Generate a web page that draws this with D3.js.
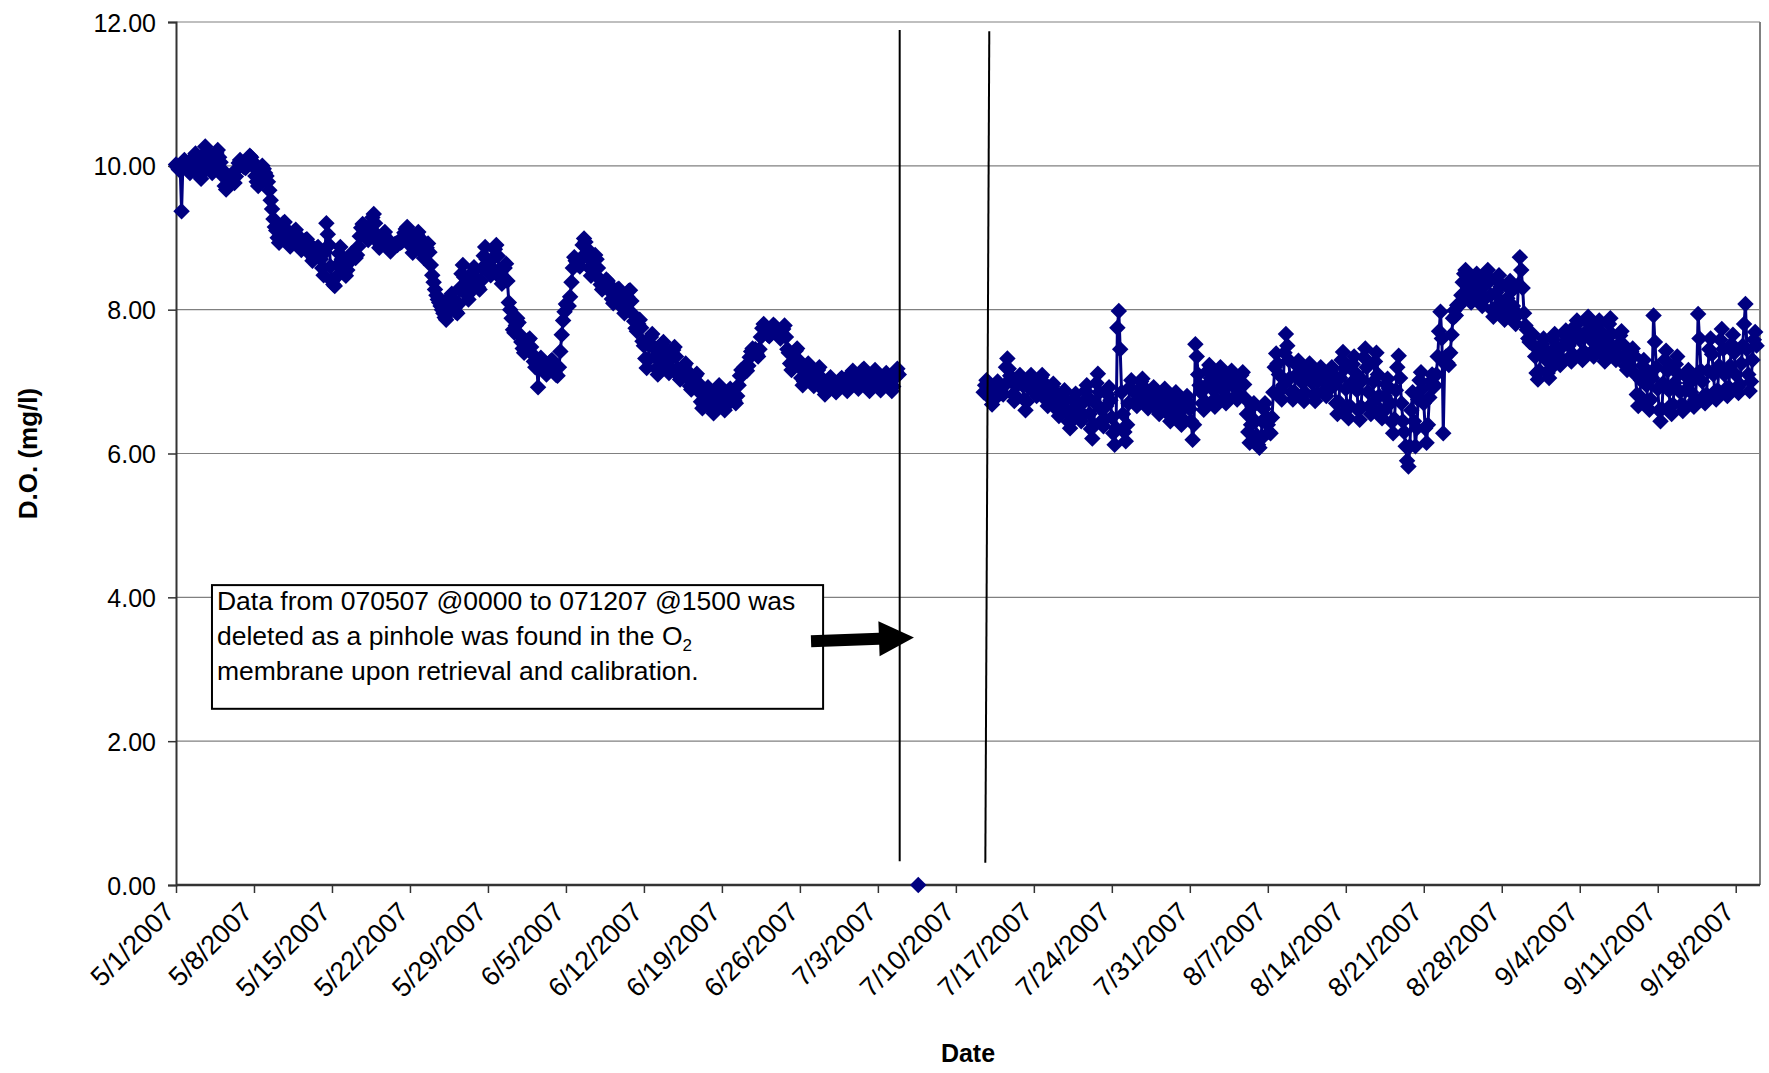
<!DOCTYPE html>
<html>
<head>
<meta charset="utf-8">
<script src="https://cdn.jsdelivr.net/npm/d3@7/dist/d3.min.js"></script>
<style>
  body { margin: 0; background: #fff; }
  text { font-family: "Liberation Sans", Arial, sans-serif; fill: #000; }
</style>
</head>
<body>
<svg id="chart"></svg>
<script>
// D.O. readings every 3 hours (one row of 8 = one day, 00h..21h)
var seg1Start = new Date(2007, 4, 1, 0);
var seg1Values = [
  10.02, 9.98, 9.95, 9.97, 9.37, 10.04, 10.08, 10.03,   // 5/1
  9.98, 9.93, 9.90, 9.97, 10.06, 10.13, 10.17, 10.08,
  9.95, 9.86, 9.82, 9.98, 10.15, 10.27, 10.20, 10.10,
  10.00, 9.94, 9.90, 9.98, 10.10, 10.18, 10.22, 10.12,
  10.05, 9.95, 9.85, 9.72, 9.67, 9.74, 9.82, 9.86,
  9.82, 9.78, 9.76, 9.85, 9.96, 10.04, 10.08, 10.02,
  10.00, 9.98, 9.97, 10.03, 10.09, 10.14, 10.12, 10.06,
  9.98, 9.86, 9.78, 9.72, 9.80, 9.92, 10.00, 9.96,      // 5/8
  9.90, 9.86, 9.78, 9.66, 9.52, 9.40, 9.26, 9.15,
  9.10, 9.00, 8.93, 9.02, 9.12, 9.20, 9.22, 9.12,
  9.02, 8.94, 8.88, 8.95, 9.03, 9.09, 9.11, 9.04,
  8.94, 8.87, 8.83, 8.88, 8.93, 8.97, 8.98, 8.93,
  8.85, 8.76, 8.68, 8.72, 8.79, 8.85, 8.87, 8.80,
  8.70, 8.58, 8.48, 8.80, 9.20, 9.05, 8.90, 8.60,
  8.40, 8.35, 8.33, 8.45, 8.62, 8.78, 8.87, 8.70,       // 5/15
  8.58, 8.50, 8.47, 8.55, 8.65, 8.74, 8.78, 8.72,
  8.74, 8.72, 8.76, 8.88, 9.02, 9.14, 9.19, 9.10,
  9.05, 8.99, 8.97, 9.06, 9.18, 9.28, 9.33, 9.20,
  9.05, 8.94, 8.86, 8.90, 8.98, 9.05, 9.08, 9.00,
  8.90, 8.85, 8.81, 8.84, 8.88, 8.91, 8.92, 8.90,
  8.95, 8.93, 8.94, 9.00, 9.07, 9.12, 9.15, 9.08,
  9.00, 8.88, 8.79, 8.86, 8.96, 9.04, 9.08, 9.00,       // 5/22
  8.90, 8.80, 8.72, 8.78, 8.86, 8.92, 8.80, 8.62,
  8.48, 8.38, 8.28, 8.20, 8.14, 8.10, 8.05, 8.00,
  7.95, 7.89, 7.86, 7.95, 8.08, 8.18, 8.22, 8.12,
  8.02, 7.97, 7.95, 8.08, 8.30, 8.50, 8.62, 8.45,
  8.30, 8.20, 8.14, 8.24, 8.40, 8.52, 8.59, 8.45,
  8.38, 8.31, 8.28, 8.40, 8.58, 8.75, 8.87, 8.70,
  8.58, 8.51, 8.48, 8.58, 8.72, 8.84, 8.90, 8.75,       // 5/29
  8.55, 8.44, 8.36, 8.45, 8.58, 8.64, 8.40, 8.10,
  8.00, 7.88, 7.72, 7.68, 7.78, 7.88, 7.82, 7.65,
  7.55, 7.46, 7.40, 7.44, 7.52, 7.58, 7.60, 7.48,
  7.38, 7.28, 7.20, 7.24, 6.92, 7.30, 7.33, 7.26,
  7.22, 7.14, 7.10, 7.15, 7.22, 7.28, 7.30, 7.18,
  7.12, 7.09, 7.08, 7.20, 7.42, 7.65, 7.85, 7.97,
  8.08, 8.06, 8.05, 8.18, 8.38, 8.58, 8.73, 8.68,       // 6/5
  8.66, 8.62, 8.60, 8.72, 8.90, 8.99, 8.94, 8.85,
  8.72, 8.58, 8.47, 8.55, 8.68, 8.76, 8.70, 8.58,
  8.43, 8.35, 8.28, 8.31, 8.38, 8.42, 8.40, 8.35,
  8.25, 8.15, 8.09, 8.14, 8.22, 8.28, 8.29, 8.22,
  8.15, 8.02, 7.95, 8.05, 8.18, 8.26, 8.27, 8.12,
  7.94, 7.84, 7.74, 7.70, 7.80, 7.86, 7.75, 7.56,
  7.50, 7.32, 7.19, 7.30, 7.50, 7.62, 7.66, 7.48,       // 6/12
  7.35, 7.18, 7.10, 7.22, 7.40, 7.52, 7.55, 7.42,
  7.30, 7.18, 7.12, 7.20, 7.34, 7.44, 7.48, 7.35,
  7.18, 7.08, 7.03, 7.08, 7.16, 7.22, 7.25, 7.15,
  7.05, 6.94, 6.89, 6.93, 7.02, 7.08, 7.11, 6.98,
  6.85, 6.72, 6.63, 6.68, 6.80, 6.88, 6.92, 6.80,
  6.70, 6.61, 6.56, 6.65, 6.80, 6.90, 6.95, 6.82,
  6.75, 6.65, 6.60, 6.66, 6.76, 6.85, 6.90, 6.84,       // 6/19
  6.80, 6.73, 6.70, 6.80, 6.95, 7.08, 7.16, 7.10,
  7.20, 7.16, 7.15, 7.22, 7.34, 7.42, 7.46, 7.40,
  7.45, 7.38, 7.35, 7.45, 7.62, 7.74, 7.80, 7.72,
  7.70, 7.65, 7.63, 7.66, 7.74, 7.79, 7.77, 7.72,
  7.68, 7.63, 7.60, 7.65, 7.73, 7.78, 7.62, 7.45,
  7.40, 7.25, 7.16, 7.22, 7.34, 7.43, 7.46, 7.30,
  7.20, 7.05, 6.95, 7.00, 7.12, 7.21, 7.25, 7.12,       // 6/26
  7.10, 7.00, 6.94, 6.98, 7.08, 7.16, 7.20, 7.06,
  6.98, 6.88, 6.82, 6.86, 6.96, 7.03, 7.06, 6.94,
  6.95, 6.88, 6.85, 6.89, 6.97, 7.03, 7.05, 6.96,
  6.95, 6.90, 6.87, 6.93, 7.04, 7.12, 7.15, 7.08,
  7.05, 6.95, 6.90, 6.96, 7.08, 7.16, 7.18, 7.06,
  6.98, 6.91, 6.87, 6.93, 7.04, 7.12, 7.16, 7.08,
  7.00, 6.92, 6.88, 6.93, 7.02, 7.09, 7.12, 7.04,       // 7/3
  6.98, 6.91, 6.87, 6.93, 7.05, 7.14, 7.18, 7.10
];
var seg2Start = new Date(2007, 6, 12, 12);
var seg2Values = [
  6.85, 6.95, 7.02, 6.96,                               // 7/12 from 12h
  6.90, 6.76, 6.68, 6.74, 6.86, 6.95, 7.00, 6.92,
  6.88, 6.84, 6.82, 6.95, 7.20, 7.32, 7.18, 7.08,
  7.00, 6.82, 6.73, 6.80, 6.95, 7.05, 7.09, 6.98,
  6.95, 6.75, 6.60, 6.72, 6.92, 7.04, 7.09, 6.98,
  6.92, 6.84, 6.80, 6.86, 6.98, 7.06, 7.09, 6.99,       // 7/17
  6.88, 6.74, 6.66, 6.72, 6.84, 6.93, 6.97, 6.85,
  6.76, 6.60, 6.52, 6.58, 6.72, 6.83, 6.88, 6.74,
  6.58, 6.44, 6.35, 6.45, 6.62, 6.76, 6.83, 6.70,
  6.60, 6.50, 6.45, 6.55, 6.72, 6.87, 6.95, 6.78,
  6.55, 6.34, 6.21, 6.40, 6.70, 6.98, 7.11, 6.85,
  6.62, 6.46, 6.38, 6.48, 6.66, 6.82, 6.92, 6.74,
  6.50, 6.28, 6.12, 6.35, 7.75, 7.98, 7.45, 6.85,       // 7/24
  6.55, 6.30, 6.17, 6.40, 6.70, 6.92, 7.02, 6.88,
  6.85, 6.72, 6.66, 6.74, 6.90, 7.00, 7.04, 6.92,
  6.80, 6.68, 6.63, 6.68, 6.80, 6.88, 6.92, 6.84,
  6.74, 6.60, 6.55, 6.62, 6.76, 6.86, 6.90, 6.80,
  6.70, 6.54, 6.45, 6.52, 6.68, 6.80, 6.85, 6.74,
  6.64, 6.48, 6.40, 6.48, 6.64, 6.75, 6.80, 6.70,
  6.62, 6.45, 6.19, 6.40, 7.52, 7.35, 7.10, 6.95,       // 7/31
  6.85, 6.70, 6.61, 6.72, 6.95, 7.15, 7.23, 7.05,
  6.90, 6.74, 6.65, 6.76, 6.98, 7.14, 7.20, 7.02,
  6.88, 6.76, 6.70, 6.78, 6.96, 7.10, 7.15, 7.00,
  6.92, 6.80, 6.75, 6.82, 6.98, 7.09, 7.13, 6.96,
  6.76, 6.55, 6.30, 6.15, 6.40, 6.65, 6.70, 6.45,
  6.25, 6.12, 6.08, 6.20, 6.45, 6.62, 6.70, 6.50,
  6.40, 6.30, 6.28, 6.50, 6.85, 7.20, 7.39, 7.25,       // 8/7
  7.10, 6.88, 6.75, 6.95, 7.40, 7.66, 7.50, 7.30,
  7.05, 6.85, 6.75, 6.86, 7.08, 7.22, 7.29, 7.14,
  7.00, 6.82, 6.73, 6.84, 7.05, 7.19, 7.25, 7.12,
  6.98, 6.82, 6.73, 6.82, 7.00, 7.14, 7.20, 7.08,
  7.02, 6.88, 6.80, 6.87, 7.04, 7.15, 7.20, 7.10,
  6.95, 6.70, 6.55, 6.72, 7.05, 7.30, 7.41, 7.18,
  6.90, 6.62, 6.49, 6.66, 6.98, 7.24, 7.35, 7.12,       // 8/14
  6.88, 6.60, 6.47, 6.65, 7.02, 7.34, 7.46, 7.20,
  6.86, 6.65, 6.55, 6.70, 7.00, 7.28, 7.40, 7.10,
  6.80, 6.60, 6.49, 6.58, 6.80, 6.96, 7.04, 6.90,
  6.70, 6.44, 6.28, 6.48, 6.88, 7.20, 7.36, 7.05,
  6.70, 6.45, 6.30, 6.10, 5.90, 5.82, 6.10, 6.60,
  6.85, 6.45, 6.10, 6.35, 6.75, 7.02, 7.13, 6.90,
  6.70, 6.35, 6.15, 6.40, 6.78, 7.00, 7.10, 6.92,       // 8/21
  6.95, 7.10, 7.35, 7.70, 7.97, 7.60, 6.28, 7.25,
  7.35, 7.26, 7.23, 7.40, 7.65, 7.88, 7.99, 7.92,
  8.06, 8.05, 8.08, 8.20, 8.38, 8.50, 8.55, 8.42,
  8.30, 8.16, 8.10, 8.18, 8.34, 8.46, 8.50, 8.40,
  8.24, 8.10, 8.05, 8.14, 8.34, 8.48, 8.55, 8.40,
  8.20, 8.00, 7.90, 8.02, 8.24, 8.40, 8.48, 8.32,
  8.10, 7.94, 7.86, 7.96, 8.16, 8.32, 8.40, 8.26,       // 8/28
  8.05, 7.88, 7.80, 7.95, 8.35, 8.73, 8.55, 8.30,
  7.95, 7.78, 7.72, 7.60, 7.55, 7.62, 7.66, 7.50,
  7.35, 7.12, 7.03, 7.15, 7.38, 7.52, 7.60, 7.45,
  7.30, 7.12, 7.05, 7.18, 7.40, 7.58, 7.66, 7.48,
  7.42, 7.28, 7.23, 7.32, 7.50, 7.65, 7.71, 7.58,
  7.50, 7.34, 7.28, 7.38, 7.60, 7.78, 7.85, 7.68,
  7.58, 7.38, 7.30, 7.42, 7.66, 7.84, 7.90, 7.74,       // 9/4
  7.58, 7.42, 7.35, 7.45, 7.64, 7.80, 7.85, 7.70,
  7.52, 7.35, 7.28, 7.40, 7.62, 7.80, 7.88, 7.66,
  7.48, 7.35, 7.30, 7.38, 7.52, 7.64, 7.70, 7.52,
  7.36, 7.22, 7.16, 7.22, 7.34, 7.42, 7.46, 7.36,
  7.10, 6.82, 6.66, 6.80, 7.02, 7.22, 7.30, 7.14,
  6.95, 6.72, 6.61, 6.75, 7.05, 7.92, 7.55, 7.20,
  6.90, 6.60, 6.45, 6.62, 6.98, 7.30, 7.43, 7.15,       // 9/11
  6.88, 6.66, 6.55, 6.68, 6.98, 7.24, 7.35, 7.10,
  6.86, 6.68, 6.59, 6.66, 6.88, 7.06, 7.16, 6.98,
  6.85, 6.70, 6.65, 6.75, 7.10, 7.94, 7.60, 7.15,
  7.00, 6.80, 6.70, 6.82, 7.15, 7.45, 7.60, 7.38,
  7.10, 6.86, 6.75, 6.88, 7.22, 7.58, 7.73, 7.45,
  7.10, 6.90, 6.80, 6.92, 7.22, 7.52, 7.65, 7.40,
  7.10, 6.92, 6.84, 6.96, 7.25, 7.50, 7.80, 8.08,       // 9/18
  7.45, 7.10, 6.87, 7.00, 7.30, 7.58, 7.69, 7.50
];
// lone zero reading inside the deleted period
var zeroReading = { date: new Date(2007, 6, 6, 15), value: 0 };

var xTickLabels = ["5/1/2007", "5/8/2007", "5/15/2007", "5/22/2007", "5/29/2007", "6/5/2007", "6/12/2007",
  "6/19/2007", "6/26/2007", "7/3/2007", "7/10/2007", "7/17/2007", "7/24/2007", "7/31/2007", "8/7/2007",
  "8/14/2007", "8/21/2007", "8/28/2007", "9/4/2007", "9/11/2007", "9/18/2007"];
var yTickValues = [0, 2, 4, 6, 8, 10, 12];

// annotation: two hand drawn lines, a text box and an arrow (data coordinates)
var gapLines = [
  { from: [new Date(2007, 6, 4, 23), 11.89], to: [new Date(2007, 6, 4, 23), 0.33] },
  { from: [new Date(2007, 6, 13, 0), 11.87], to: [new Date(2007, 6, 12, 15, 30), 0.31] }
];
var noteBox = { left: new Date(2007, 4, 4, 5, 30), right: new Date(2007, 5, 28, 2), top: 4.17, bottom: 2.45 };
var noteLines = [
  [["Data from 070507 @0000 to 071207 @1500 was", false]],
  [["deleted as a pinhole was found in the O", false], ["2", true]],
  [["membrane upon retrieval and calibration.", false]]
];
var noteArrow = { tail: [new Date(2007, 5, 27, 0), 3.39], tip: [new Date(2007, 6, 6, 5, 45), 3.44] };

var W = 1769, H = 1073;
var margin = { top: 22, left: 176, right: 9, bottom: 188 };
var width = W - margin.left - margin.right, height = H - margin.top - margin.bottom;

var svg = d3.select("#chart").attr("width", W).attr("height", H);
svg.append("rect").attr("width", W).attr("height", H).attr("fill", "#fff");

var g = svg.append("g").attr("transform", "translate(" + margin.left + "," + margin.top + ")");

var x = d3.scaleTime().domain([new Date(2007, 4, 1), new Date(2007, 8, 20)]).range([0, width - 2]);
var y = d3.scaleLinear().domain([0, 12]).range([height, 0]);

function toSeries(start, values) {
  return values.map(function (v, i) {
    return { date: d3.timeHour.offset(start, i * 3), value: v };
  });
}
var seg1 = toSeries(seg1Start, seg1Values);
var seg2 = toSeries(seg2Start, seg2Values);

// gridlines
g.append("g").selectAll("line")
  .data(yTickValues.filter(function (v) { return v > 0; }))
  .enter().append("line")
  .attr("x1", 0).attr("x2", width)
  .attr("y1", function (d) { return y(d); }).attr("y2", function (d) { return y(d); })
  .attr("stroke", "#808080").attr("stroke-width", 1.2);

// plot area frame, right side
g.append("line").attr("x1", width).attr("x2", width).attr("y1", 0).attr("y2", height)
  .attr("stroke", "#808080").attr("stroke-width", 2);

// y axis
var yAxis = d3.axisLeft(y).tickValues(yTickValues).tickFormat(d3.format(".2f")).tickSize(8).tickPadding(12);
var ya = g.append("g").call(yAxis);
ya.select(".domain").attr("stroke", "#333").attr("stroke-width", 2);
ya.selectAll(".tick line").attr("stroke", "#333").attr("stroke-width", 1.5);
ya.selectAll("text").style("font-size", "25px").attr("dy", "0.36em");

// x axis
var parseTick = d3.timeParse("%m/%d/%Y");
var xTickDates = xTickLabels.map(function (s) { return parseTick(s); });
var xAxis = d3.axisBottom(x).tickValues(xTickDates)
  .tickFormat(function (d, i) { return xTickLabels[i]; }).tickSize(8).tickSizeOuter(0);
var xa = g.append("g").attr("transform", "translate(0," + height + ")").call(xAxis);
xa.select(".domain").attr("stroke", "#333").attr("stroke-width", 2.5).attr("d", "M0,0H" + width);
xa.selectAll(".tick line").attr("stroke", "#333").attr("stroke-width", 1.5);
xa.selectAll("text")
  .style("font-size", "27px")
  .attr("text-anchor", "end")
  .attr("x", 0).attr("y", 0).attr("dy", "0.35em")
  .attr("transform", "translate(-7,22) rotate(-45)");

// axis titles
svg.append("text")
  .attr("transform", "translate(37," + (margin.top + height / 2) + ") rotate(-90)")
  .attr("text-anchor", "middle")
  .style("font-size", "26px").style("font-weight", "bold")
  .text("D.O. (mg/l)");
svg.append("text")
  .attr("x", margin.left + width / 2).attr("y", 1062)
  .attr("text-anchor", "middle")
  .style("font-size", "25px").style("font-weight", "bold")
  .text("Date");

// series: connecting line, then diamond markers
var navy = "#000080";
var line = d3.line().x(function (d) { return x(d.date); }).y(function (d) { return y(d.value); });
[seg1, seg2].forEach(function (seg) {
  g.append("path").datum(seg).attr("d", line)
    .attr("fill", "none").attr("stroke", navy).attr("stroke-width", 3);
});
var marker = d3.symbol().type(d3.symbolSquare).size(136);
g.append("g").selectAll("path")
  .data(seg1.concat(seg2, [zeroReading]))
  .enter().append("path")
  .attr("d", marker)
  .attr("transform", function (d) { return "translate(" + x(d.date) + "," + y(d.value) + ") rotate(45)"; })
  .attr("fill", navy);

// annotation lines
g.append("g").selectAll("line").data(gapLines).enter().append("line")
  .attr("x1", function (d) { return x(d.from[0]); }).attr("y1", function (d) { return y(d.from[1]); })
  .attr("x2", function (d) { return x(d.to[0]); }).attr("y2", function (d) { return y(d.to[1]); })
  .attr("stroke", "#000").attr("stroke-width", 2);

// note box
var bx = x(noteBox.left), by = y(noteBox.top);
g.append("rect")
  .attr("x", bx).attr("y", by)
  .attr("width", x(noteBox.right) - bx).attr("height", y(noteBox.bottom) - by)
  .attr("fill", "#fff").attr("stroke", "#000").attr("stroke-width", 2);
var note = g.append("text").style("font-size", "26.5px");
noteLines.forEach(function (parts, i) {
  var first = true;
  parts.forEach(function (p) {
    var t = note.append("tspan").text(p[0]);
    if (first) { t.attr("x", bx + 5).attr("y", by + 25 + i * 35); first = false; }
    if (p[1]) t.style("font-size", "17px").attr("dy", "6");
  });
});

// arrow
var tx = x(noteArrow.tail[0]), ty = y(noteArrow.tail[1]);
var px = x(noteArrow.tip[0]), py = y(noteArrow.tip[1]);
var len = Math.hypot(px - tx, py - ty), ux = (px - tx) / len, uy = (py - ty) / len;
var nx = -uy, ny = ux, headLen = 35, shaft = 6, head = 17.5;
var hx = px - ux * headLen, hy = py - uy * headLen;
var pts = [
  [tx + nx * shaft, ty + ny * shaft], [hx + nx * shaft, hy + ny * shaft], [hx + nx * head, hy + ny * head],
  [px, py], [hx - nx * head, hy - ny * head], [hx - nx * shaft, hy - ny * shaft], [tx - nx * shaft, ty - ny * shaft]
];
g.append("path").attr("d", "M" + pts.join("L") + "Z").attr("fill", "#000");
</script>
</body>
</html>
